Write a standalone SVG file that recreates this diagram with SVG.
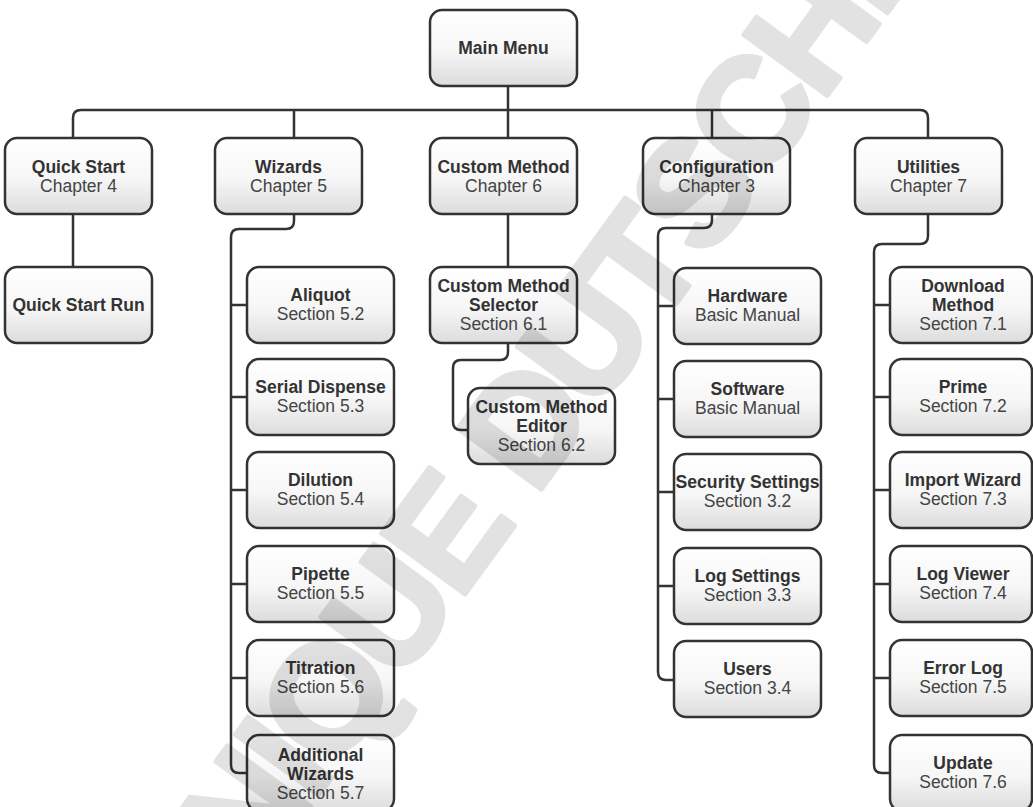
<svg xmlns="http://www.w3.org/2000/svg" width="1033" height="807" viewBox="0 0 1033 807">
<defs>
<linearGradient id="g" x1="0" y1="0" x2="0" y2="1">
<stop offset="0" stop-color="#ffffff"/>
<stop offset="0.55" stop-color="#f6f6f6"/>
<stop offset="1" stop-color="#dcdcdc"/>
</linearGradient>
<style>
.box{fill:url(#g);stroke:#333;stroke-width:2.5}
.ln{fill:none;stroke:#333;stroke-width:2.5}
.t{font-family:"Liberation Sans",Arial,sans-serif;font-size:17.5px;font-weight:bold;fill:#333;text-anchor:middle}
.s{font-family:"Liberation Sans",Arial,sans-serif;font-size:17.5px;fill:#444;text-anchor:middle}
.wm{font-family:"Liberation Sans",Arial,sans-serif;font-size:150px;font-weight:bold;letter-spacing:-6px;fill:#000;stroke:#000;stroke-width:5;stroke-linejoin:round}
</style>
</defs>
<rect width="1033" height="807" fill="#fff"/>
<g id="connectors">
<path class="ln" d="M508,86 V110"/>
<path class="ln" d="M73,138 V118 Q73,110 81,110 H920 Q928,110 928,118 V138"/>
<path class="ln" d="M294,110 V138 M508,110 V138 M712,110 V138"/>
<path class="ln" d="M73,214 V267"/>
<path class="ln" d="M294,214 V221 Q294,229 286,229 H239 Q231,229 231,237 V765 Q231,773 239,773 H247"/>
<path class="ln" d="M231,305 H247 M231,397 H247 M231,490 H247 M231,584 H247 M231,678 H247"/>
<path class="ln" d="M508,214 V267"/>
<path class="ln" d="M508,342 V352 Q508,360 500,360 H461 Q453,360 453,368 V422 Q453,430 461,430 H468"/>
<path class="ln" d="M712,214 V220 Q712,228 704,228 H666 Q658,228 658,236 V672 Q658,680 666,680 H674"/>
<path class="ln" d="M658,306 H674 M658,399 H674 M658,492 H674 M658,586 H674"/>
<path class="ln" d="M928,214 V236 Q928,244 920,244 H882 Q874,244 874,252 V765 Q874,773 882,773 H890"/>
<path class="ln" d="M874,305 H890 M874,397 H890 M874,490 H890 M874,584 H890 M874,678 H890"/>
</g>
<g id="main-menu"><rect class="box" x="430" y="10" width="147" height="76" rx="12"/><text class="t" x="503.5" y="54">Main Menu</text></g>
<g id="quick-start"><rect class="box" x="5" y="138" width="147" height="76" rx="12"/><text class="t" x="78.5" y="173">Quick Start</text><text class="s" x="78.5" y="192">Chapter 4</text></g>
<g id="wizards"><rect class="box" x="215" y="138" width="147" height="76" rx="12"/><text class="t" x="288.5" y="173">Wizards</text><text class="s" x="288.5" y="192">Chapter 5</text></g>
<g id="custom-method"><rect class="box" x="430" y="138" width="147" height="76" rx="12"/><text class="t" x="503.5" y="173">Custom Method</text><text class="s" x="503.5" y="192">Chapter 6</text></g>
<g id="configuration"><rect class="box" x="643" y="138" width="147" height="76" rx="12"/><text class="t" x="716.5" y="173">Configuration</text><text class="s" x="716.5" y="192">Chapter 3</text></g>
<g id="utilities"><rect class="box" x="855" y="138" width="147" height="76" rx="12"/><text class="t" x="928.5" y="173">Utilities</text><text class="s" x="928.5" y="192">Chapter 7</text></g>
<g id="quick-start-run"><rect class="box" x="5" y="267" width="147" height="76" rx="12"/><text class="t" x="78.5" y="311">Quick Start Run</text></g>
<g id="aliquot"><rect class="box" x="247" y="267" width="147" height="76" rx="12"/><text class="t" x="320.5" y="301">Aliquot</text><text class="s" x="320.5" y="320">Section 5.2</text></g>
<g id="serial-dispense"><rect class="box" x="247" y="359" width="147" height="76" rx="12"/><text class="t" x="320.5" y="393">Serial Dispense</text><text class="s" x="320.5" y="412">Section 5.3</text></g>
<g id="dilution"><rect class="box" x="247" y="452" width="147" height="76" rx="12"/><text class="t" x="320.5" y="486">Dilution</text><text class="s" x="320.5" y="505">Section 5.4</text></g>
<g id="pipette"><rect class="box" x="247" y="546" width="147" height="76" rx="12"/><text class="t" x="320.5" y="580">Pipette</text><text class="s" x="320.5" y="599">Section 5.5</text></g>
<g id="titration"><rect class="box" x="247" y="640" width="147" height="76" rx="12"/><text class="t" x="320.5" y="674">Titration</text><text class="s" x="320.5" y="693">Section 5.6</text></g>
<g id="additional-wizards"><rect class="box" x="247" y="735" width="147" height="76" rx="12"/><text class="t" x="320.5" y="761">Additional</text><text class="t" x="320.5" y="780">Wizards</text><text class="s" x="320.5" y="799">Section 5.7</text></g>
<g id="custom-method-selector"><rect class="box" x="430" y="267" width="147" height="76" rx="12"/><text class="t" x="503.5" y="292">Custom Method</text><text class="t" x="503.5" y="311">Selector</text><text class="s" x="503.5" y="330">Section 6.1</text></g>
<g id="custom-method-editor"><rect class="box" x="468" y="388" width="147" height="76" rx="12"/><text class="t" x="541.5" y="413">Custom Method</text><text class="t" x="541.5" y="432">Editor</text><text class="s" x="541.5" y="451">Section 6.2</text></g>
<g id="hardware"><rect class="box" x="674" y="268" width="147" height="76" rx="12"/><text class="t" x="747.5" y="302">Hardware</text><text class="s" x="747.5" y="321">Basic Manual</text></g>
<g id="software"><rect class="box" x="674" y="361" width="147" height="76" rx="12"/><text class="t" x="747.5" y="395">Software</text><text class="s" x="747.5" y="414">Basic Manual</text></g>
<g id="security-settings"><rect class="box" x="674" y="454" width="147" height="76" rx="12"/><text class="t" x="747.5" y="488" textLength="144" lengthAdjust="spacingAndGlyphs">Security Settings</text><text class="s" x="747.5" y="507">Section 3.2</text></g>
<g id="log-settings"><rect class="box" x="674" y="548" width="147" height="76" rx="12"/><text class="t" x="747.5" y="582">Log Settings</text><text class="s" x="747.5" y="601">Section 3.3</text></g>
<g id="users"><rect class="box" x="674" y="641" width="147" height="76" rx="12"/><text class="t" x="747.5" y="675">Users</text><text class="s" x="747.5" y="694">Section 3.4</text></g>
<g id="download-method"><rect class="box" x="890" y="267" width="142" height="76" rx="12"/><text class="t" x="963" y="292">Download</text><text class="t" x="963" y="311">Method</text><text class="s" x="963" y="330">Section 7.1</text></g>
<g id="prime"><rect class="box" x="890" y="359" width="142" height="76" rx="12"/><text class="t" x="963" y="393">Prime</text><text class="s" x="963" y="412">Section 7.2</text></g>
<g id="import-wizard"><rect class="box" x="890" y="452" width="142" height="76" rx="12"/><text class="t" x="963" y="486">Import Wizard</text><text class="s" x="963" y="505">Section 7.3</text></g>
<g id="log-viewer"><rect class="box" x="890" y="546" width="142" height="76" rx="12"/><text class="t" x="963" y="580">Log Viewer</text><text class="s" x="963" y="599">Section 7.4</text></g>
<g id="error-log"><rect class="box" x="890" y="640" width="142" height="76" rx="12"/><text class="t" x="963" y="674">Error Log</text><text class="s" x="963" y="693">Section 7.5</text></g>
<g id="update"><rect class="box" x="890" y="735" width="142" height="76" rx="12"/><text class="t" x="963" y="769">Update</text><text class="s" x="963" y="788">Section 7.6</text></g>
<g id="watermark" opacity="0.11"><text class="wm" transform="translate(27,1197) rotate(-54)">TECHNIQUE DUTSCHER</text></g>
</svg>
